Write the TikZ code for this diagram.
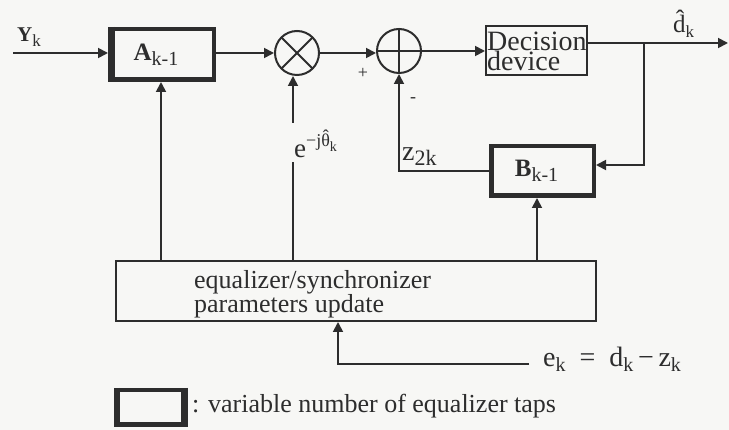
\documentclass[tikz,border=0pt]{standalone}
\usepackage{fontspec}
\setmainfont{Liberation Serif}
\usetikzlibrary{arrows.meta,calc}
\definecolor{ink}{RGB}{45,45,45}
\definecolor{paper}{RGB}{247,247,245}
\newcommand\mysb[2][17]{\raisebox{-5pt}{\fontsize{#1}{#1}\selectfont #2}}
\newcommand\hattheta{\makebox[0pt][l]{\hspace{1.5pt}\raisebox{4pt}{ˆ}}θ}
\begin{document}
\begin{tikzpicture}[x=1pt,y=-1pt,
  ln/.style={draw=ink,line width=1.8pt},
  arr/.style={ln,-{Triangle[length=10pt,width=10pt]}},
  thickbox/.style={draw=ink,line width=4.5pt,inner sep=0pt,text=ink},
  thinbox/.style={draw=ink,line width=2pt,inner sep=0pt},
  sumc/.style={circle,draw=ink,line width=2pt,minimum size=44pt,inner sep=0pt},
  lbl/.style={inner sep=0pt,text=ink}]
\fill[paper] (0,0) rectangle (729,430);
\useasboundingbox (0,0) rectangle (729,430);

% blocks
\node[thickbox,minimum width=103.5pt,minimum height=50.5pt] (A) at (162,54.5)
  {\fontsize{25}{25}\selectfont\bfseries A\mysb[20]{\mdseries k-1}\hspace*{12pt}};
\draw[ink,line width=7pt] ($(A.north west)+(3.5,0)$) -- ($(A.south west)+(3.5,0)$);
\node[sumc] (mult) at (297,53) {};
\draw[ink,line width=2pt] ($(mult.center)+(-16,-16)$) -- ($(mult.center)+(16,16)$);
\draw[ink,line width=2pt] ($(mult.center)+(-16,16)$) -- ($(mult.center)+(16,-16)$);
\node[sumc] (add) at (399,51) {};
\draw[ink,line width=2pt] (add.west) -- (add.east);
\draw[ink,line width=2pt] (add.north) -- (add.south);
\node[thinbox,minimum width=101pt,minimum height=49pt] (dec) at (536.5,50.5) {};
\node[lbl,anchor=base west,align=left,font=\fontsize{28}{28}\selectfont] (dectxt) at (487,71) {Decision\\[-8pt]device};
\node[thickbox,minimum width=102.5pt,minimum height=49.5pt] (B) at (542.5,171)
  {\fontsize{25}{25}\selectfont\bfseries B\mysb[20]{\mdseries k-1}\hspace*{12pt}};
\node[thinbox,minimum width=480pt,minimum height=60pt] (bot) at (356,291) {};
\node[lbl,anchor=north west,align=left,font=\fontsize{26}{22}\selectfont] (bottxt) at (194,270)
  {equalizer/synchronizer\\parameters update};

% coordinates
\coordinate (in) at (13,53);
\coordinate (out) at (728,43);
\coordinate (br) at (644,43);
\coordinate (xA) at (161,0);
\coordinate (xM) at (293,0);
\coordinate (xB) at (537,0);
\coordinate (xE) at (338,0);
\coordinate (thlo) at (293,162);
\coordinate (thhi) at (293,123);
\coordinate (ek) at (529,364);

% connectors
\draw[arr] (in) -- (in -| A.west);
\draw[arr] (A.east |- mult.west) -- (mult.west);
\draw[arr] (mult.east) -- (mult.east -| add.west);
\draw[arr] (add.east) -- (add.east -| dec.west);
\draw[arr] (dec.east |- out) -- (out);
\draw[arr] (br) |- ($(B.east)+(0,-6)$);
\draw[arr] (B.west) -| (add.south);
\draw[arr] (xA |- bot.north) -- (xA |- A.south);
\draw[ln] (xM |- bot.north) -- (thlo);
\draw[arr] (thhi) -- (xM |- mult.south);
\draw[arr] (xB |- bot.north) -- (xB |- B.south);
\draw[arr] (ek) -| (xE |- bot.south);

% labels
\node[lbl,anchor=base west,font=\fontsize{21}{21}\selectfont\bfseries] (yk) at (17,42) {Y\mysb{\mdseries k}};
\node[lbl,anchor=base west,font=\fontsize{25}{25}\selectfont] (dk) at (673,33) {\^{d}\mysb{k}};
\node[lbl,font=\fontsize{18}{18}\selectfont] (plus) at (363,73) {+};
\node[lbl,font=\fontsize{18}{18}\selectfont] (minus) at (413,100) {-};
\node[lbl,anchor=base west,font=\fontsize{27}{27}\selectfont] (theta) at (294,158)
  {e\raisebox{11pt}{\fontsize{18}{18}\selectfont −j\hattheta\mysb[14]{k}}};
\node[lbl,anchor=base west,font=\fontsize{28}{28}\selectfont] (z2k) at (402,161) {z\mysb[22]{2k}};
\node[lbl,anchor=base west,font=\fontsize{28}{28}\selectfont] (eq) at (543,367)
  {e\mysb[20]{k}\ \ =\ \ d\mysb[20]{k}\,−\,z\mysb[20]{k}};

% legend
\node[thickbox,minimum width=69.5pt,minimum height=34.5pt] (leg) at (151,407.5) {};
\draw[ink,line width=7pt] ($(leg.north east)+(-3.5,0)$) -- ($(leg.south east)+(-3.5,0)$);
\draw[ink,line width=5.5pt] ($(leg.north west)+(2.75,0)$) -- ($(leg.south west)+(2.75,0)$);
\node[lbl,anchor=base west,font=\fontsize{26}{26}\selectfont] (legtxt) at (192,413) {: variable number of equalizer taps};
\end{tikzpicture}
\end{document}
